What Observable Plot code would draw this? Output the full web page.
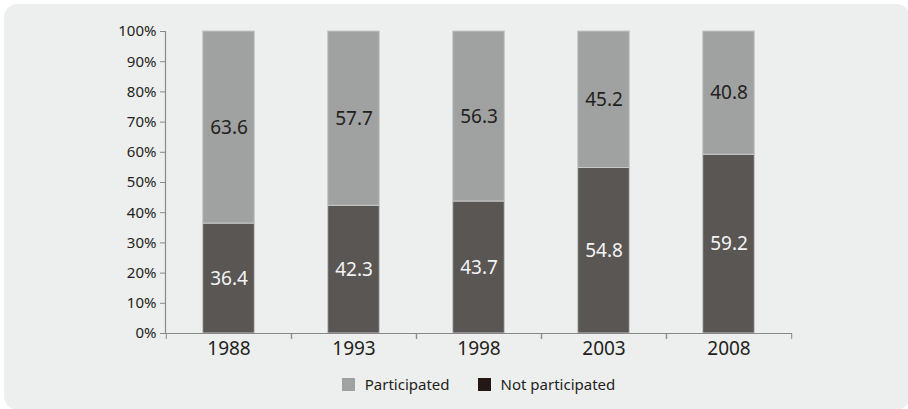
<!DOCTYPE html>
<html>
<head>
<meta charset="utf-8">
<script src="https://cdn.jsdelivr.net/npm/d3@7"></script>
<script src="https://cdn.jsdelivr.net/npm/@observablehq/plot@0.6"></script>
<style>
  html, body { margin: 0; padding: 0; background: #ffffff; }
  #wrap { position: relative; width: 908px; height: 409px; overflow: hidden; font-family: "Noto Sans", sans-serif; color: #231f20; }
  #bg { position: absolute; left: 4px; top: 4px; width: 906px; height: 406px; background: #edeeee; border-radius: 14px; }
  #chart { position: absolute; left: 0; top: 0; }
  #legend { position: absolute; left: 165px; width: 627px; top: 374px; display: flex; justify-content: center; gap: 28px; font-size: 15px; color: #231f20; }
  .item { display: flex; align-items: center; gap: 10px; }
  .sw { width: 13px; height: 13px; display: inline-block; }
</style>
</head>
<body>
<div id="wrap">
  <div id="bg"></div>
  <div id="chart"></div>
  <div id="legend"></div>
</div>
<script>
const years = ["1988", "1993", "1998", "2003", "2008"];
const participated = [63.6, 57.7, 56.3, 45.2, 40.8];
const notParticipated = [36.4, 42.3, 43.7, 54.8, 59.2];
const seriesNames = ["Participated", "Not participated"];
const yTicks = [0, 10, 20, 30, 40, 50, 60, 70, 80, 90, 100];

const barColors = {"Participated": "#a0a2a1", "Not participated": "#595654"};
const labelColors = {"Participated": "#231f20", "Not participated": "#f4f4f4"};
const legendColors = {"Participated": "#a0a2a1", "Not participated": "#231815"};

const rows = [];
years.forEach((y, i) => {
  rows.push({year: y, series: "Not participated", value: notParticipated[i]});
  rows.push({year: y, series: "Participated", value: participated[i]});
});

const W = 908, H = 362;
const mL = 165, mR = 116, mT = 31, mB = 29;
const step = (W - mL - mR) / years.length;
const barW = 52;
const inset = (step - barW) / 2;
const order = ["Not participated", "Participated"];

const chart = Plot.plot({
  width: W,
  height: H,
  marginLeft: mL,
  marginRight: mR,
  marginTop: mT,
  marginBottom: mB,
  style: {background: "transparent", fontFamily: "'Noto Sans', sans-serif", color: "#231f20"},
  x: {domain: years, padding: 0, label: null},
  y: {domain: [0, 100], label: null},
  color: {type: "identity"},
  marks: [
    Plot.barY(rows, Plot.stackY({
      x: "year", y: "value", z: "series", order,
      fill: d => barColors[d.series],
      stroke: "#c6c7c7", strokeWidth: 1,
      insetLeft: inset, insetRight: inset
    })),
    Plot.text(rows, Plot.stackY({
      x: "year", y: "value", z: "series", order,
      text: d => d.value.toFixed(1),
      fill: d => labelColors[d.series],
      fontSize: 19
    })),
    Plot.ruleY([0], {stroke: "#8a8888", strokeWidth: 1.2}),
    Plot.frame({anchor: "left", stroke: "#8a8888", strokeWidth: 1.2}),
    Plot.axisY({ticks: yTicks, tickFormat: d => d + "%", tickSize: 5, stroke: "#8a8888", fontSize: 15, tickPadding: 4, label: null}),
    Plot.axisX({tickSize: 0, tickPadding: 8, fontSize: 19, label: null}),
    Plot.axisX({tickSize: 6, text: null, dx: -step / 2, stroke: "#8a8888", label: null}),
    Plot.axisX({tickSize: 6, text: null, dx: step / 2, stroke: "#8a8888", label: null})
  ]
});
document.getElementById("chart").appendChild(chart);

const legend = document.getElementById("legend");
seriesNames.forEach(s => {
  const item = document.createElement("div");
  item.className = "item";
  const sw = document.createElement("span");
  sw.className = "sw";
  sw.style.background = legendColors[s];
  const t = document.createElement("span");
  t.textContent = s;
  item.appendChild(sw);
  item.appendChild(t);
  legend.appendChild(item);
});
</script>
</body>
</html>
